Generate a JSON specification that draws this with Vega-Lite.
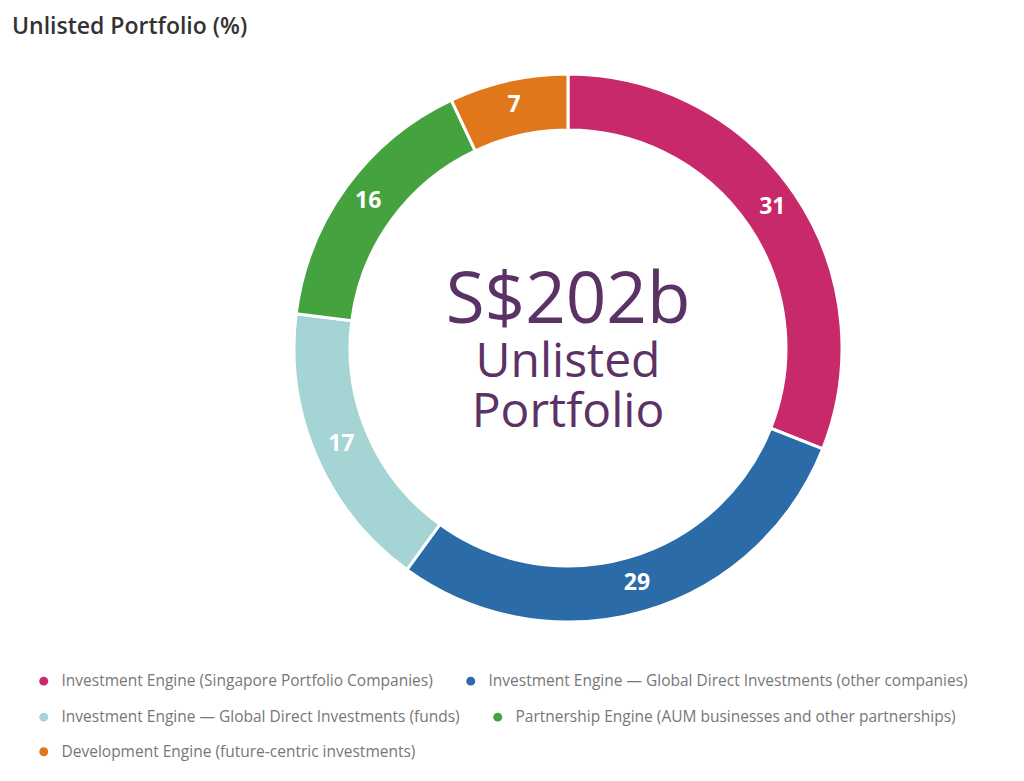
{
  "$schema": "https://vega.github.io/schema/vega-lite/v6.json",
  "autosize": {"type": "none"},
  "width": 912,
  "height": 596,
  "padding": {"left": 112, "top": 50, "right": 0, "bottom": 135},
  "background": "white",
  "title": {
    "text": "Unlisted Portfolio (%)",
    "anchor": "start",
    "frame": "group",
    "dx": -100,
    "fontSize": 23,
    "fontWeight": 600,
    "font": "Open Sans",
    "color": "#333333",
    "offset": 11
  },
  "config": {
    "legend": {
      "title": null,
      "orient": "none",
      "direction": "horizontal",
      "columnPadding": 30,
      "symbolType": "circle",
      "symbolSize": 80,
      "symbolStrokeWidth": 0,
      "symbolOpacity": 1,
      "symbolOffset": 0,
      "labelFont": "Open Sans",
      "labelFontSize": 15.5,
      "labelColor": "#777777",
      "labelLimit": 700,
      "labelOffset": 10,
      "padding": 0
    }
  },
  "resolve": {"scale": {"color": "independent"}, "legend": {"color": "independent"}},
  "layer": [
    {
      "data": {
        "values": [
          {"k": 1, "segment": "Investment Engine (Singapore Portfolio Companies)", "value": 31},
          {"k": 2, "segment": "Investment Engine — Global Direct Investments (other companies)", "value": 29},
          {"k": 3, "segment": "Investment Engine — Global Direct Investments (funds)", "value": 17},
          {"k": 4, "segment": "Partnership Engine (AUM businesses and other partnerships)", "value": 16},
          {"k": 5, "segment": "Development Engine (future-centric investments)", "value": 7}
        ]
      },
      "encoding": {
        "theta": {"field": "value", "type": "quantitative", "stack": true},
        "order": {"field": "k", "type": "quantitative"}
      },
      "layer": [
        {
          "mark": {"type": "arc", "outerRadius": 274, "innerRadius": 218, "stroke": "white", "strokeWidth": 3},
          "encoding": {
            "color": {
              "field": "segment",
              "type": "nominal",
              "sort": null,
              "scale": {
                "domain": [
                  "Investment Engine (Singapore Portfolio Companies)",
                  "Investment Engine — Global Direct Investments (other companies)",
                  "Investment Engine — Global Direct Investments (funds)",
                  "Partnership Engine (AUM businesses and other partnerships)",
                  "Development Engine (future-centric investments)"
                ],
                "range": ["#C8296A", "#2A6BA8", "#A5D4D4", "#45A33F", "#E1771B"]
              },
              "legend": null
            }
          }
        },
        {
          "mark": {"type": "text", "radius": 247, "font": "Open Sans", "fontSize": 23, "fontWeight": "bold", "color": "white", "baseline": "middle", "align": "center", "dy": -2},
          "encoding": {
            "text": {"field": "value", "type": "quantitative"}
          }
        }
      ]
    },
    {
      "data": {
        "values": [
          {"segment": "Investment Engine (Singapore Portfolio Companies)"},
          {"segment": "Investment Engine — Global Direct Investments (other companies)"}
        ]
      },
      "mark": {"type": "circle", "opacity": 0},
      "encoding": {
        "color": {
          "field": "segment",
          "type": "nominal",
          "sort": null,
          "scale": {
            "domain": [
              "Investment Engine (Singapore Portfolio Companies)",
              "Investment Engine — Global Direct Investments (other companies)"
            ],
            "range": ["#C8296A", "#2A6BA8"]
          },
          "legend": {"legendX": -76, "legendY": 623}
        }
      }
    },
    {
      "data": {
        "values": [
          {"segment": "Investment Engine — Global Direct Investments (funds)"},
          {"segment": "Partnership Engine (AUM businesses and other partnerships)"}
        ]
      },
      "mark": {"type": "circle", "opacity": 0},
      "encoding": {
        "color": {
          "field": "segment",
          "type": "nominal",
          "sort": null,
          "scale": {
            "domain": [
              "Investment Engine — Global Direct Investments (funds)",
              "Partnership Engine (AUM businesses and other partnerships)"
            ],
            "range": ["#A5D4D4", "#45A33F"]
          },
          "legend": {"legendX": -76, "legendY": 659}
        }
      }
    },
    {
      "data": {
        "values": [
          {"segment": "Development Engine (future-centric investments)"}
        ]
      },
      "mark": {"type": "circle", "opacity": 0},
      "encoding": {
        "color": {
          "field": "segment",
          "type": "nominal",
          "sort": null,
          "scale": {
            "domain": ["Development Engine (future-centric investments)"],
            "range": ["#E1771B"]
          },
          "legend": {"legendX": -76, "legendY": 694}
        }
      }
    },
    {
      "data": {"values": [{"line": "S$202b"}]},
      "mark": {"type": "text", "font": "Open Sans", "fontSize": 71, "color": "#5B3266", "baseline": "alphabetic", "align": "center", "dy": -25},
      "encoding": {
        "text": {"field": "line", "type": "nominal"}
      }
    },
    {
      "data": {"values": [{"line": "Unlisted\nPortfolio"}]},
      "mark": {"type": "text", "font": "Open Sans", "fontSize": 48, "color": "#5B3266", "baseline": "alphabetic", "align": "center", "dy": 29, "lineBreak": "\n", "lineHeight": 50},
      "encoding": {
        "text": {"field": "line", "type": "nominal"}
      }
    }
  ]
}
